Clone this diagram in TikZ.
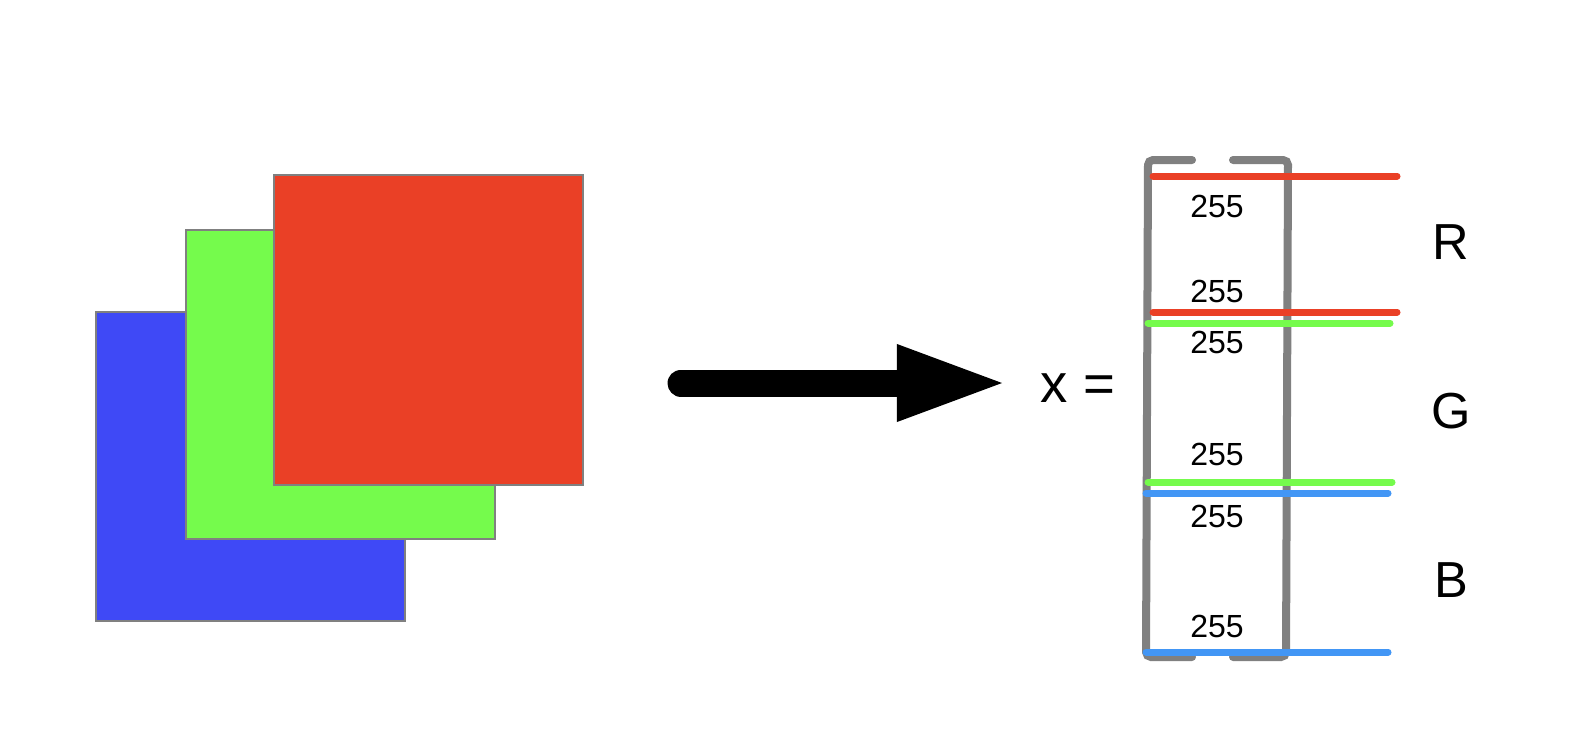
\documentclass[tikz,border=0pt]{standalone}
\usepackage{fontspec}
\setmainfont{Liberation Sans}
\usepackage{tikz}
\usetikzlibrary{arrows.meta, positioning}
\definecolor{chred}{HTML}{EA4026}
\definecolor{chgreen}{HTML}{75FB4C}
\definecolor{chblue}{HTML}{3F49F6}
\definecolor{lineblue}{HTML}{4296F5}
\definecolor{framegray}{HTML}{808080}
\tikzset{
  chan/.style={
    draw=framegray, fill=#1, line width=0.6pt,
    minimum width=3.09cm, minimum height=3.09cm, inner sep=0pt, outer sep=0pt
  },
  bigarrow/.style={
    line width=0.27cm, line cap=round,
    -{Triangle[length=1.05cm, width=0.78cm, line width=0pt]}
  },
  bracketline/.style={draw=framegray, line width=0.08cm, line cap=round, rounded corners=0.05cm},
  rowline/.style={draw=#1, line width=0.07cm, line cap=round},
  val/.style={font=\fontsize{9.1}{11}\selectfont, inner sep=0pt},
  chlab/.style={font=\fontsize{14.4}{17}\selectfont, inner sep=0pt}
}

\begin{document}
\begin{tikzpicture}[x=0.01cm, y=-0.01cm]
  \useasboundingbox (0,0) rectangle (1580,754);
  % stacked channels
  \node[chan=chblue]  (blue)  at (250.5,466.5) {};
  \node[chan=chgreen] (green) at (340.5,384.5) {};
  \node[chan=chred]   (red)   at (428.5,330) {};
  % arrow
  \coordinate (arrstart) at (681,383);
  \coordinate (arrtip) at (1002,383);
  \draw[bigarrow] (arrstart) -- (arrtip);
  \node[chlab, font=\fontsize{15.5}{18}\selectfont] (xeq) at (1078,388) {x =};
  % vector bracket
  \draw[bracketline] (1192,160) -- (1148,160) -- (1146,657) -- (1192,657);
  \draw[bracketline] (1233,160) -- (1288,160) -- (1286,657) -- (1233,657);
  \foreach \y/\a/\b/\c in {176/1153/1397/chred, 312/1153/1397/chred,
      323/1148/1390/chgreen, 482/1148/1392/chgreen,
      493/1146/1388/lineblue, 652/1146/1388/lineblue} {
    \draw[rowline=\c] (\a,\y) -- (\b,\y);
  }
  \foreach \y [count=\i] in {206,291,342,454,516,626} {
    \node[val] (v\i) at (1217,\y) {255};
  }
  \node[chlab] (labr) at (1451,242) {R};
  \node[chlab] (labg) at (1451,411) {G};
  \node[chlab] (labb) at (1451,580) {B};
\end{tikzpicture}
\end{document}
